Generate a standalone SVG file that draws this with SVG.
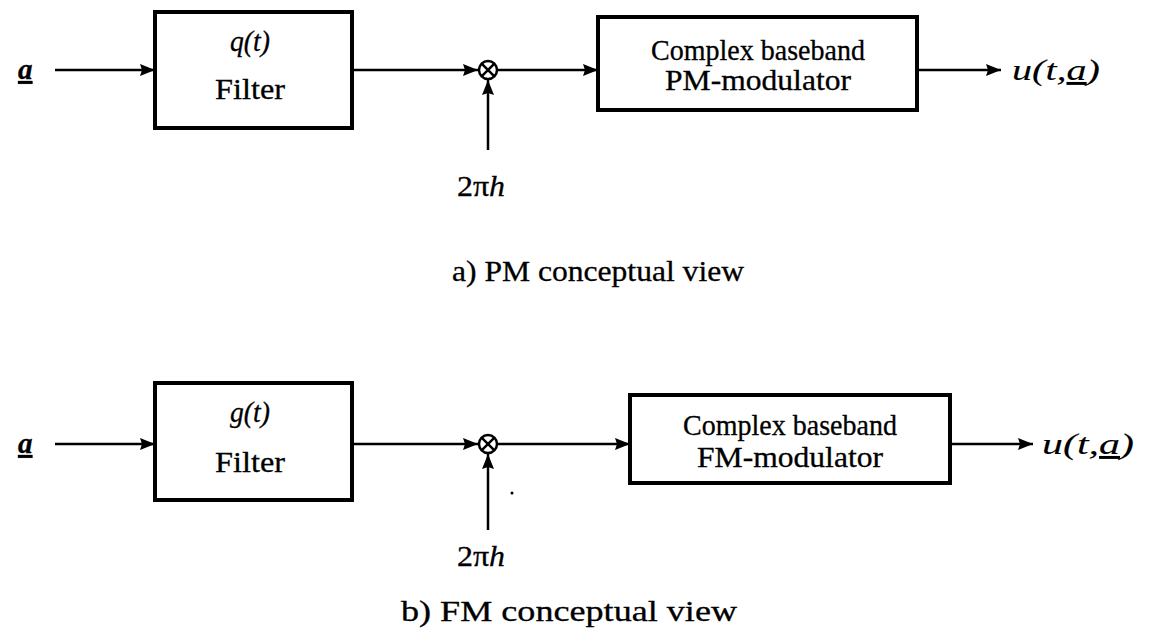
<svg xmlns="http://www.w3.org/2000/svg" width="1171" height="630" viewBox="0 0 1171 630">
<style>
.box{fill:none;stroke:#000;stroke-width:4}
.ln{fill:none;stroke:#000;stroke-width:2.5}
.arr{fill:none;stroke:#000;stroke-width:2.5;marker-end:url(#ah)}
.t{font-family:"Liberation Serif","Times New Roman",serif;font-size:29px;fill:#000;stroke:#000;stroke-width:0.3}
.i{font-style:italic}
.c{text-anchor:middle}
</style>
<defs>
<marker id="ah" viewBox="0 0 15 12" refX="15" refY="6" markerWidth="15" markerHeight="12" markerUnits="userSpaceOnUse" orient="auto">
<path d="M0,0 L15,6 L0,12 L2,6 Z" fill="#000"/>
</marker>
</defs>
<rect width="1171" height="630" fill="#fff"/>

<g id="connectors">
<line class="arr" x1="55" y1="70" x2="155" y2="70"/>
<line class="arr" x1="352" y1="70" x2="478" y2="70"/>
<line class="arr" x1="488" y1="150" x2="488" y2="80"/>
<line class="arr" x1="498" y1="70" x2="598" y2="70"/>
<line class="arr" x1="917" y1="70" x2="1001" y2="70"/>

<line class="arr" x1="55" y1="444" x2="155" y2="444"/>
<line class="arr" x1="352" y1="444" x2="478" y2="444"/>
<line class="arr" x1="488" y1="530" x2="488" y2="454"/>
<line class="arr" x1="498" y1="444" x2="630" y2="444"/>
<line class="arr" x1="950" y1="444" x2="1033" y2="444"/>
</g>

<g id="in-a-top">
<text class="t i" x="18" y="79" font-size="32" font-weight="bold" text-decoration="underline">a</text>
</g>
<g id="filter-q">
<rect class="box" x="155" y="12" width="197" height="116"/>
<text class="t i c" x="250" y="51" textLength="40" lengthAdjust="spacingAndGlyphs">q(t)</text>
<text class="t c" x="250" y="99" textLength="70" lengthAdjust="spacingAndGlyphs">Filter</text>
</g>
<g id="mult-top">
<circle class="ln" cx="488" cy="70" r="9"/>
<path class="ln" d="M481.6,63.6 L494.4,76.4 M494.4,63.6 L481.6,76.4"/>
</g>
<g id="gain-top">
<text class="t c" x="481" y="196" textLength="48" lengthAdjust="spacingAndGlyphs"><tspan>2π</tspan><tspan class="i">h</tspan></text>
</g>
<g id="pm-mod">
<rect class="box" x="598" y="17" width="319" height="93"/>
<text class="t c" x="758" y="60" textLength="214" lengthAdjust="spacingAndGlyphs">Complex baseband</text>
<text class="t c" x="758" y="90" textLength="186" lengthAdjust="spacingAndGlyphs">PM-modulator</text>
</g>
<g id="out-top">
<text class="t i" x="1012" y="80" textLength="88" lengthAdjust="spacingAndGlyphs" style="stroke-width:0.1">u(t,<tspan text-decoration="underline">a</tspan>)</text>
</g>
<g id="caption-a">
<text class="t c" x="598" y="281" textLength="292" lengthAdjust="spacingAndGlyphs">a) PM conceptual view</text>
</g>

<g id="in-a-bottom">
<text class="t i" x="18" y="453" font-size="32" font-weight="bold" text-decoration="underline">a</text>
</g>
<g id="filter-g">
<rect class="box" x="155" y="383" width="197" height="117"/>
<text class="t i c" x="250" y="422" textLength="40" lengthAdjust="spacingAndGlyphs">g(t)</text>
<text class="t c" x="250" y="472" textLength="70" lengthAdjust="spacingAndGlyphs">Filter</text>
</g>
<g id="mult-bottom">
<circle class="ln" cx="488" cy="444" r="9"/>
<path class="ln" d="M481.6,437.6 L494.4,450.4 M494.4,437.6 L481.6,450.4"/>
</g>
<g id="gain-bottom">
<text class="t c" x="481" y="566" textLength="48" lengthAdjust="spacingAndGlyphs"><tspan>2π</tspan><tspan class="i">h</tspan></text>
</g>
<circle cx="512" cy="493" r="1.5" fill="#000"/>
<g id="fm-mod">
<rect class="box" x="630" y="395" width="320" height="88"/>
<text class="t c" x="790" y="435" textLength="214" lengthAdjust="spacingAndGlyphs">Complex baseband</text>
<text class="t c" x="790" y="467" textLength="186" lengthAdjust="spacingAndGlyphs">FM-modulator</text>
</g>
<g id="out-bottom">
<text class="t i" x="1042" y="454" textLength="92" lengthAdjust="spacingAndGlyphs" style="stroke-width:0.1">u(t,<tspan text-decoration="underline">a</tspan>)</text>
</g>
<g id="caption-b">
<text class="t c" x="569" y="621" textLength="336" lengthAdjust="spacingAndGlyphs">b) FM conceptual view</text>
</g>
</svg>
